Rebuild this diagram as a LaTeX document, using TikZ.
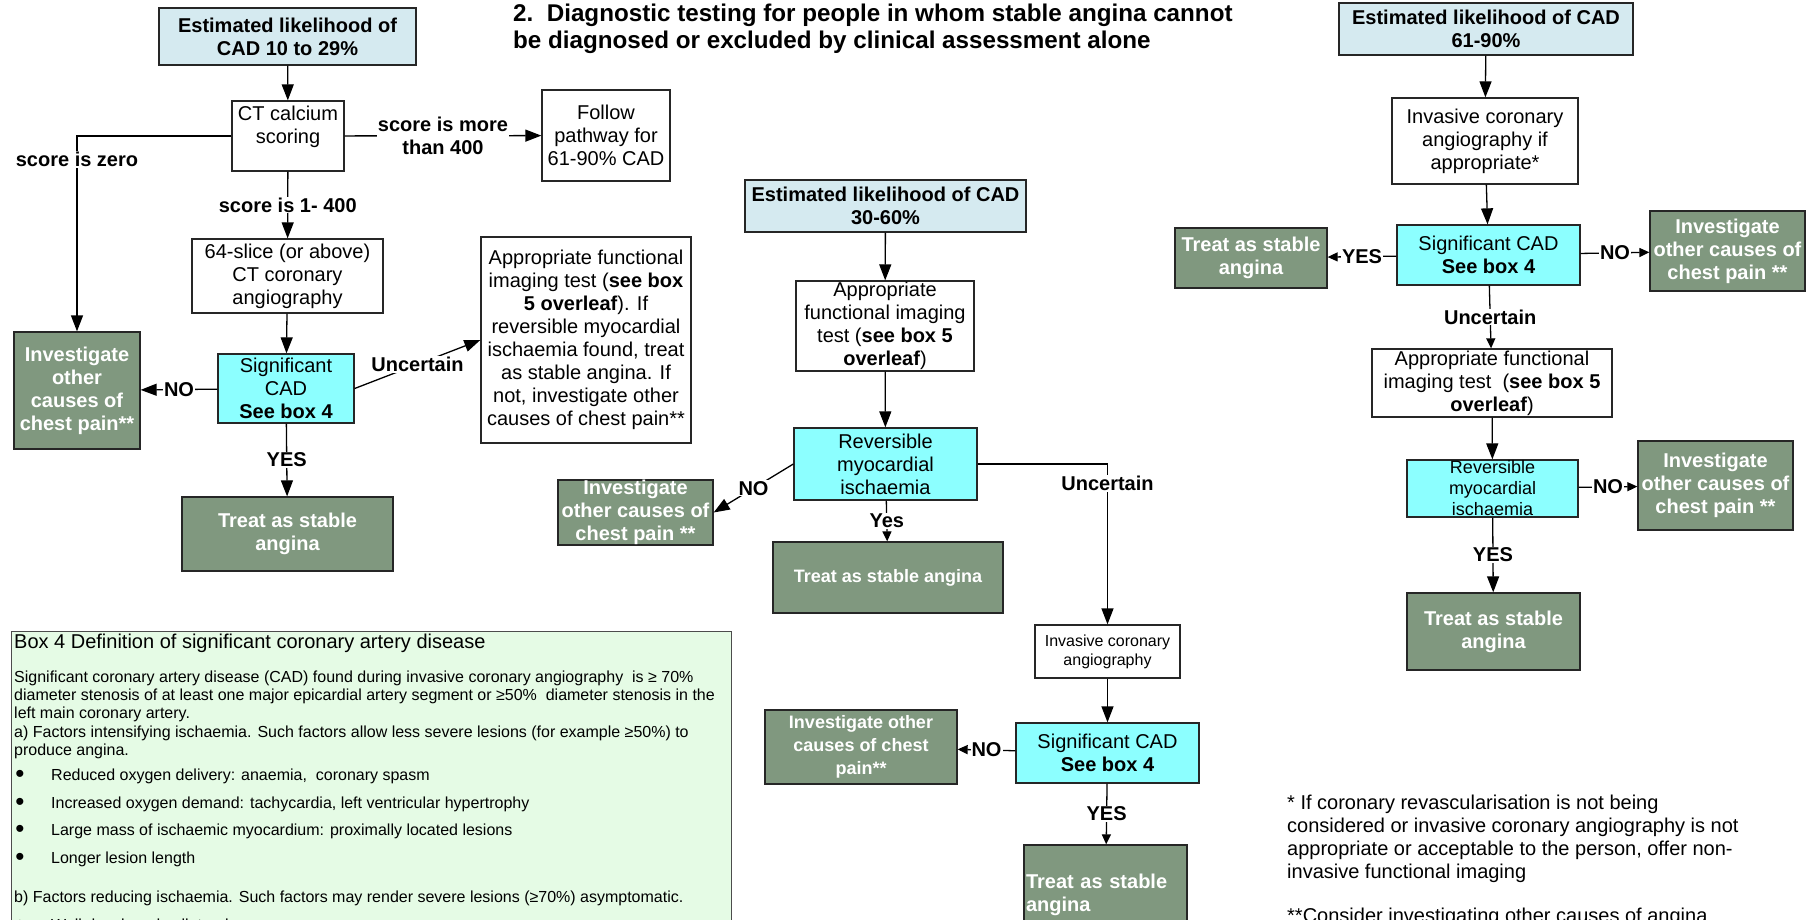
\documentclass[tikz,border=0pt]{standalone}
\usepackage{fontspec}
\setmainfont{Liberation Sans}
\usetikzlibrary{arrows.meta}
\definecolor{estblue}{RGB}{213,234,240}
\definecolor{sigcyan}{RGB}{140,255,255}
\definecolor{gboxfill}{RGB}{128,152,127}
\definecolor{boxfour}{RGB}{229,251,229}
\newcommand\boxfont{\fontsize{20}{23}\selectfont}
\newcommand\notefont{\fontsize{16}{18}\selectfont}
\begin{document}
\begin{tikzpicture}[x=1pt,y=-1pt,
 every node/.style={inner sep=1pt},
 bx/.style={draw=black!85,line width=1.3pt,align=center,font=\boxfont},
 est/.style={bx,fill=estblue,font=\boxfont\bfseries},
 wbox/.style={bx,fill=white},
 cbox/.style={bx,fill=sigcyan},
 gbox/.style={bx,fill=gboxfill,text=white,font=\boxfont\bfseries},
 lab/.style={fill=white,align=center,font=\boxfont\bfseries},
 arr/.style={line width=1.3pt,-{Triangle[length=16pt,width=12pt]}},
 arrs/.style={line width=1.3pt,-{Triangle[length=10pt,width=9pt]}}]
\fill[white] (0,0) rectangle (1816,919);
\useasboundingbox (0,0) rectangle (1816,919);

\node[anchor=west,align=left,font=\fontsize{24.2}{27}\selectfont\bfseries] (title) at (512,29) {2.\ \ Diagnostic testing for people in whom stable angina cannot\\be diagnosed or excluded by clinical assessment alone};

\node[est,minimum width=257,minimum height=57] (est1) at (287.5,36.5) {Estimated likelihood of\\CAD 10 to 29\%};
\node[wbox,minimum width=112,minimum height=70] (ct) at (288,136) {CT calcium\\scoring\\~};
\node[wbox,minimum width=128,minimum height=91] (follow) at (606,135.5) {Follow\\pathway for\\61-90\% CAD};
\node[wbox,minimum width=191,minimum height=74] (slice) at (287.5,276) {64-slice (or above)\\CT coronary\\angiography};
\node[wbox,minimum width=210,minimum height=206] (func1) at (586,340) {Appropriate functional\\imaging test (\textbf{see box}\\\textbf{5 overleaf}). If\\reversible myocardial\\ischaemia found, treat\\as stable angina. If\\not, investigate other\\causes of chest pain**};
\node[gbox,minimum width=126,minimum height=117] (other1) at (77,390.5) {Investigate\\other\\causes of\\chest pain**};
\node[cbox,minimum width=136,minimum height=69] (sig1) at (286,388.5) {Significant\\CAD\\\textbf{See box 4}};
\node[gbox,minimum width=211,minimum height=74] (treat1) at (287.5,534) {Treat as stable\\angina};

\node[est,minimum width=281,minimum height=52] (est2) at (885.5,206) {Estimated likelihood of CAD\\30-60\%};
\node[wbox,minimum width=178,minimum height=90] (func2) at (885,326) {Appropriate\\functional imaging\\test (\textbf{see box 5}\\\textbf{overleaf})};
\node[cbox,minimum width=183,minimum height=72] (rev2) at (885.5,464) {Reversible\\myocardial\\ischaemia};
\node[gbox,inner sep=0pt,minimum width=155,minimum height=65] (other2) at (635.5,512.5) {Investigate\\other causes of\\chest pain **};
\node[gbox,font=\fontsize{18}{21}\selectfont\bfseries,minimum width=230,minimum height=71] (treat2) at (888,577.5) {Treat as stable angina};
\node[wbox,font=\fontsize{16}{19}\selectfont,minimum width=145,minimum height=53] (inv2) at (1107.5,651.5) {Invasive coronary\\angiography};
\node[cbox,minimum width=183,minimum height=60] (sig2) at (1107.5,753) {Significant CAD\\\textbf{See box 4}};
\node[gbox,font=\fontsize{18}{23}\selectfont\bfseries,minimum width=192,minimum height=74] (other3) at (861,747) {Investigate other\\causes of chest\\pain**};
\node[gbox,align=left,inner sep=2pt,text width=159,minimum height=100] (treat3) at (1105.5,895) {Treat as stable\\angina};

\node[est,minimum width=294,minimum height=52] (est3) at (1486,29) {Estimated likelihood of CAD\\61-90\%};
\node[wbox,minimum width=186,minimum height=86] (inv3) at (1485,141) {Invasive coronary\\angiography if\\appropriate*};
\node[cbox,minimum width=183,minimum height=60] (sig3) at (1488.5,255) {Significant CAD\\\textbf{See box 4}};
\node[gbox,minimum width=152,minimum height=60] (treat4) at (1251,258) {Treat as stable\\angina};
\node[gbox,minimum width=155,minimum height=80] (other4) at (1727.5,251) {Investigate\\other causes of\\chest pain **};
\node[wbox,minimum width=240,minimum height=68] (func3) at (1492,383) {Appropriate functional\\imaging test\ \ (\textbf{see box 5}\\\textbf{overleaf})};
\node[cbox,font=\fontsize{18}{21}\selectfont,inner sep=0pt,minimum width=171,minimum height=57] (rev3) at (1492.5,488.5) {Reversible\\myocardial\\ischaemia};
\node[gbox,minimum width=155,minimum height=89] (other5) at (1715.5,485.5) {Investigate\\other causes of\\chest pain **};
\node[gbox,minimum width=173,minimum height=77] (treat5) at (1493.5,631.5) {Treat as stable\\angina};

\draw[arr] (est1) -- (ct);
\draw[arr] (ct.west) -| node[lab,pos=0.56]{score is zero} (other1.north);
\draw[arr] (ct) -- node[lab]{score is more\\than 400} (follow);
\draw[arr] (ct) -- node[lab]{score is 1- 400} (slice);
\draw[arr] (slice) -- (sig1);
\draw[arr] (sig1) -- node[lab]{NO} (other1);
\draw[arr] (sig1.east) -- node[lab]{Uncertain} (func1.west);
\draw[arr] (sig1) -- node[lab]{YES} (treat1);

\draw[arr] (est2) -- (func2);
\draw[arr] (func2) -- (rev2);
\draw[arr] (rev2.west) -- node[lab]{NO} (other2.east);
\draw[arrs] (rev2) -- node[lab]{Yes} (treat2);
\draw[arr] (rev2.east) -| node[lab,pos=0.56]{Uncertain} (inv2.north);
\draw[arr] (inv2) -- (sig2);
\draw[arrs] (sig2) -- node[lab]{NO} (other3);
\draw[arrs] (sig2) -- node[lab]{YES} (treat3);

\draw[arr] (est3) -- (inv3);
\draw[arr] (inv3) -- (sig3);
\draw[arrs] (sig3) -- node[lab]{YES} (treat4);
\draw[arrs] (sig3) -- node[lab]{NO} (other4);
\draw[arrs] (sig3) -- node[lab]{Uncertain} (func3);
\draw[arr] (func3) -- (rev3);
\draw[arrs] (rev3) -- node[lab]{NO} (other5);
\draw[arr] (rev3) -- node[lab]{YES} (treat5);

\node[draw=black!70,line width=1.3pt,fill=boxfour,anchor=north west,minimum width=720,minimum height=330] (box4) at (11,631) {};
\node[anchor=west,font=\boxfont] (b4head) at (13,643) {Box 4 Definition of significant coronary artery disease};
\foreach \y/\t [count=\i] in {678/{Significant coronary artery disease (CAD) found during invasive coronary angiography\ \ is ≥ 70\%},
 696/{diameter stenosis of at least one major epicardial artery segment or ≥50\%\ \ diameter stenosis in the},
 714/{left main coronary artery.},
 733/{a) Factors intensifying ischaemia. Such factors allow less severe lesions (for example ≥50\%) to},
 751/{produce angina.},
 898/{b) Factors reducing ischaemia. Such factors may render severe lesions (≥70\%) asymptomatic.}}
 \node[anchor=west,font=\notefont] (b4line\i) at (13,\y) {\t};
\foreach \y/\t [count=\i] in {776/{Reduced oxygen delivery: anaemia,\ \ coronary spasm},
 804/{Increased oxygen demand: tachycardia, left ventricular hypertrophy},
 831/{Large mass of ischaemic myocardium: proximally located lesions},
 859/{Longer lesion length},
 926/{Well developed collaterals}}
 {\node[anchor=center,font=\fontsize{26}{26}\selectfont] (b4dot\i) at (20,\y) {\textbullet};
  \node[anchor=west,font=\notefont] (b4item\i) at (50,\y) {\t};}

\node[anchor=north west,align=left,font=\boxfont,inner sep=0pt] (notes) at (1287,795) {* If coronary revascularisation is not being\\considered or invasive coronary angiography is not\\appropriate or acceptable to the person, offer non-\\invasive functional imaging\\[21pt]**Consider investigating other causes of angina};
\end{tikzpicture}
\end{document}
